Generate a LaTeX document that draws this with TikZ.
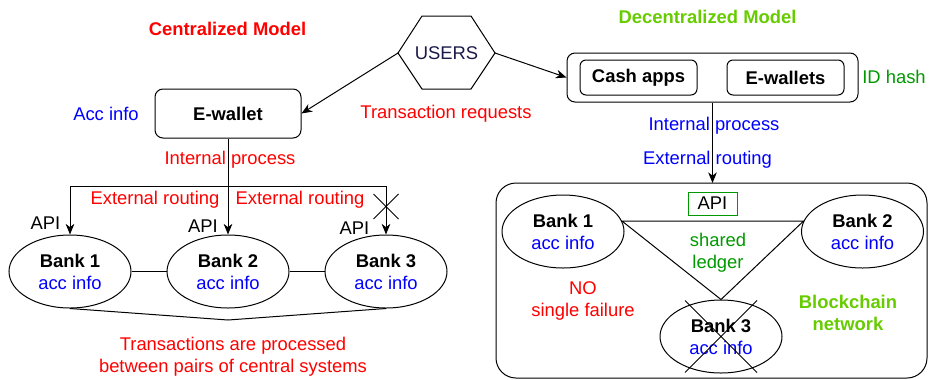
\documentclass[tikz,border=0pt]{standalone}
\usepackage{fontspec}
\setmainfont{Liberation Sans}
\usepackage{tikz}
\usetikzlibrary{shapes.geometric,arrows.meta}
\definecolor{cred}{RGB}{255,0,0}
\definecolor{cblue}{RGB}{0,0,255}
\definecolor{cgreen}{RGB}{0,153,0}
\definecolor{clime}{RGB}{102,204,0}
\definecolor{cnavy}{RGB}{26,26,74}
\newcommand{\crossmark}[3]{\draw (#1-#3,#2-#3)--(#1+#3,#2+#3) (#1-#3,#2+#3)--(#1+#3,#2-#3);}
\newcommand{\bankname}[1]{\textbf{Bank #1}\\\textcolor{cblue}{acc info}}
\newcommand{\lblfont}{\fontsize{13.8}{16.5}\selectfont}
\tikzset{
  every node/.style={font=\lblfont, inner sep=0pt, align=center},
  bank/.style={ellipse, draw, minimum width=91.5pt, minimum height=54.75pt},
  appbox/.style={draw, rounded corners=4.5pt, minimum width=87.75pt, minimum height=26.25pt, font=\lblfont\bfseries},
  arr/.style={-{Stealth[length=8pt,width=6.5pt,inset=2.5pt]}},
}

\begin{document}
\begin{tikzpicture}[x=0.75pt,y=-0.75pt,line width=0.75pt]
\useasboundingbox (0,0) rectangle (930,379);
% users
\coordinate (usl) at (398,53); \coordinate (usr) at (495,53);
\draw (usl)--(422,16)--(471,16)--(usr)--(471,89)--(422,89)--cycle;
\node[text=cnavy] (users) at (446.5,53) {USERS};
% centralized side
\node[text=cred, font=\lblfont\bfseries] (ctitle) at (227.5,29) {Centralized Model};
\node[draw, rounded corners=6pt, minimum width=109.5pt, minimum height=36.75pt, font=\lblfont\bfseries] (ew) at (228,113.5) {E-wallet};
\node[text=cblue] (accinfo) at (106,114) {Acc info};
\node[text=cred] (treq) at (446,114) {Transaction requests};
\draw[arr] (usl) -- (ew.east);
\node[bank] (b1) at (70,271.5) {\bankname{1}};
\node[bank] (b2) at (228,271.5) {\bankname{2}};
\node[bank] (b3) at (386,271.5) {\bankname{3}};
\coordinate (jn) at (228,186.5);
\draw (ew) -- (jn);
\draw[arr] (jn) -| (b1);
\draw[arr] (jn) -- (b2);
\draw[arr] (jn) -| (b3);
\node[text=cred] (intc) at (230,160) {Internal process};
\node[text=cred] (ext1) at (155,200) {External routing};
\node[text=cred] (ext2) at (300,200) {External routing};
\node (api1) at (45.5,223) {API};
\node (api2) at (203,226) {API};
\node (api3) at (354.5,228) {API};
\crossmark{386}{206.5}{12.5}
\draw (b1) -- (b2) (b2) -- (b3);
\coordinate (low) at (228,320);
\draw (b1.south) -- (low) -- (b3.south);
\node[text=cred] (tnote) at (233,356.5) {Transactions are processed\\between pairs of central systems};
% decentralized side
\node[text=clime, font=\lblfont\bfseries] (dtitle) at (707.5,17) {Decentralized Model};
\node[draw, rounded corners=6pt, minimum width=218.25pt, minimum height=36.75pt] (apps) at (712.5,77.5) {};
\node[appbox] (cash) at (638.5,77.5) {Cash apps};
\node[appbox] (ews) at (785.5,77.5) {E-wallets};
\node[text=cgreen] (idh) at (894,77) {ID hash};
\draw[arr] (usr) -- (apps.west);
\draw[rounded corners=15pt] (496,183) rectangle (927,378);
\coordinate (net) at (712.5,183);
\draw[arr] (apps) -- (net);
\node[text=cblue] (intd) at (714,126) {Internal process};
\node[text=cblue] (extd) at (707.5,160) {External routing};
\node[bank] (d1) at (563,231.5) {\bankname{1}};
\node[bank] (d2) at (862.5,231.5) {\bankname{2}};
\node[bank] (d3) at (721,336.5) {\bankname{3}};
\draw (d1.10) -- (d2.170) -- (d3.north) -- cycle;
\node[draw=cgreen, minimum width=36.75pt, minimum height=17.25pt] (api) at (712.5,203.5) {API};
\node[text=cgreen] (ledger) at (718,252.5) {shared\\ledger};
\node[text=cred] (nofail) at (583,301) {NO\\single failure};
\node[text=clime, font=\lblfont\bfseries] (bnet) at (848,312.5) {Blockchain\\network};
\crossmark{721}{336.5}{36}
\end{tikzpicture}
\end{document}
